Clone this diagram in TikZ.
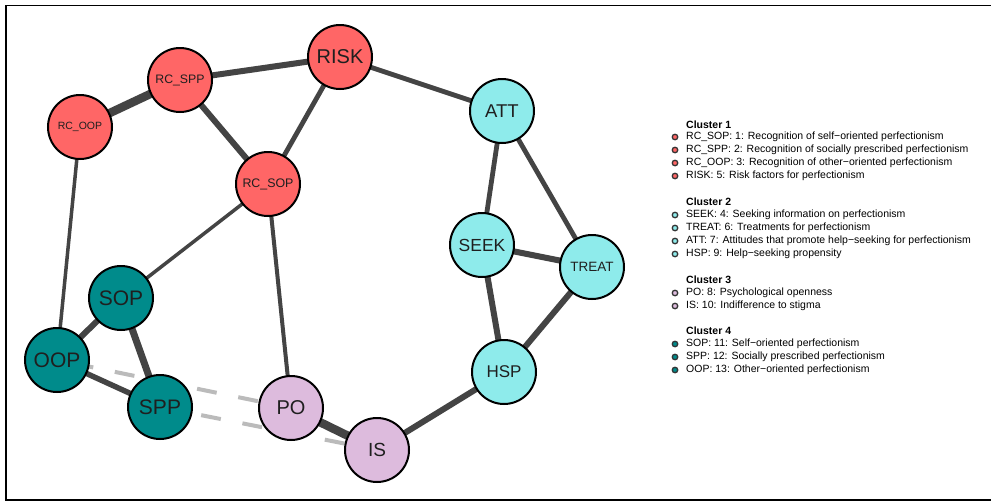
\documentclass[tikz,border=0pt]{standalone}
\usepackage{fontspec}
\setmainfont{Liberation Sans}
\pgfdeclarelayer{bg}
\pgfdeclarelayer{canvas}
\pgfsetlayers{canvas,bg,main}
\definecolor{cred}{HTML}{FF6666}
\definecolor{ccyan}{HTML}{8EEBEB}
\definecolor{cteal}{HTML}{008B8B}
\definecolor{clil}{HTML}{DDBBDD}
\definecolor{cedge}{HTML}{444444}
\definecolor{cneg}{HTML}{BBBBBB}
\tikzset{
  vnode/.style={circle, draw=black, line width=2pt, minimum size=64pt, inner sep=0pt, text=black!88},
  red/.style={vnode, fill=cred},
  cyan/.style={vnode, fill=ccyan},
  teal/.style={vnode, fill=cteal},
  lil/.style={vnode, fill=clil},
  edge/.style={draw=cedge, line width=#1},
  neg/.style={draw=cneg, line width=4pt, dash pattern=on 20pt off 22pt},
  bul/.style={circle, draw=black!80, line width=1.3pt, minimum size=5.5pt, inner sep=0pt},
  leg/.style={anchor=west, inner sep=0pt, font=\fontsize{10.5}{12}\selectfont},
  head/.style={anchor=west, inner sep=0pt, font=\fontsize{10.5}{12}\selectfont\bfseries},
}
\begin{document}
\begin{tikzpicture}[x=1pt, y=-1pt]
\useasboundingbox (0,0) rectangle (991,501);
\begin{pgfonlayer}{canvas}
\fill[white] (0,0) rectangle (991,501);
\end{pgfonlayer}
\draw[line width=1.5pt] (995,5.5) -- (6,5.5) -- (6,500) -- (995,500);

% nodes
\node[red, font=\fontsize{20}{20}\selectfont] (RISK) at (340,57) {RISK};
\node[red, font=\fontsize{12.3}{12}\selectfont] (RCSPP) at (180,80) {RC\_SPP};
\node[red, font=\fontsize{10.5}{12}\selectfont] (RCOOP) at (80,127) {RC\_OOP};
\node[red, font=\fontsize{12.4}{12}\selectfont] (RCSOP) at (268,184) {RC\_SOP};
\node[cyan, font=\fontsize{18.5}{18}\selectfont] (ATT) at (502,111) {ATT};
\node[cyan, font=\fontsize{17.5}{18}\selectfont] (SEEK) at (482,245) {SEEK};
\node[cyan, font=\fontsize{13.5}{14}\selectfont] (TREAT) at (592,267) {TREAT};
\node[cyan, font=\fontsize{17}{18}\selectfont] (HSP) at (504,372) {HSP};
\node[lil, font=\fontsize{19}{19}\selectfont] (IS) at (377,450) {IS};
\node[lil, font=\fontsize{20}{20}\selectfont] (PO) at (291,408) {PO};
\node[teal, font=\fontsize{21}{21}\selectfont] (SPP) at (160,407) {SPP};
\node[teal, font=\fontsize{21}{21}\selectfont] (OOP) at (57,360) {OOP};
\node[teal, font=\fontsize{21}{21}\selectfont] (SOP) at (121,298) {SOP};

% edges
\begin{pgfonlayer}{bg}
\draw[edge=8.5pt] (RCOOP.center) -- (RCSPP.center);
\draw[edge=6pt] (RCSPP.center) -- (RISK.center);
\draw[edge=6pt] (RCSPP.center) -- (RCSOP.center);
\draw[edge=4.8pt] (RISK.center) -- (RCSOP.center);
\draw[edge=4.8pt] (RISK.center) -- (ATT.center);
\draw[edge=3.5pt] (RCOOP.center) -- (OOP.center);
\draw[edge=3.5pt] (RCSOP.center) -- (SOP.center);
\draw[edge=4pt] (RCSOP.center) -- (PO.center);
\draw[edge=4.8pt] (ATT.center) -- (SEEK.center);
\draw[edge=4.8pt] (ATT.center) -- (TREAT.center);
\draw[edge=6pt] (SEEK.center) -- (TREAT.center);
\draw[edge=6pt] (SEEK.center) -- (HSP.center);
\draw[edge=6pt] (TREAT.center) -- (HSP.center);
\draw[edge=6pt] (HSP.center) -- (IS.center);
\draw[edge=8.5pt] (PO.center) -- (IS.center);
\draw[edge=6pt] (OOP.center) -- (SOP.center);
\draw[edge=7pt] (SOP.center) -- (SPP.center);
\draw[edge=5.5pt] (OOP.center) -- (SPP.center);
\draw[neg, dash phase=25pt] (OOP.center) -- (PO.center);
\draw[neg, dash phase=0pt] (SPP.center) -- (IS.center);
\end{pgfonlayer}

% legend
\node[head] (h1) at (686,125) {Cluster 1};
\node[bul, fill=cred] (b1) at (675,137) {}; \node[leg] (l1) at (686,137) {RC\_SOP: 1: Recognition of self−oriented perfectionism};
\node[bul, fill=cred] (b2) at (675,150) {}; \node[leg] (l2) at (686,150) {RC\_SPP: 2: Recognition of socially prescribed perfectionism};
\node[bul, fill=cred] (b3) at (675,163) {}; \node[leg] (l3) at (686,163) {RC\_OOP: 3: Recognition of other−oriented perfectionism};
\node[bul, fill=cred] (b4) at (675,176) {}; \node[leg] (l4) at (686,176) {RISK: 5: Risk factors for perfectionism};

\node[head] (h2) at (686,202) {Cluster 2};
\node[bul, fill=ccyan] (b5) at (675,215) {}; \node[leg] (l5) at (686,215) {SEEK: 4: Seeking information on perfectionism};
\node[bul, fill=ccyan] (b6) at (675,228) {}; \node[leg] (l6) at (686,228) {TREAT: 6: Treatments for perfectionism};
\node[bul, fill=ccyan] (b7) at (675,241) {}; \node[leg] (l7) at (686,241) {ATT: 7: Attitudes that promote help−seeking for perfectionism};
\node[bul, fill=ccyan] (b8) at (675,254) {}; \node[leg] (l8) at (686,254) {HSP: 9: Help−seeking propensity};

\node[head] (h3) at (686,280) {Cluster 3};
\node[bul, fill=clil] (b9) at (675,293) {}; \node[leg] (l9) at (686,293) {PO: 8: Psychological openness};
\node[bul, fill=clil] (b10) at (675,306) {}; \node[leg] (l10) at (686,306) {IS: 10: Indifference to stigma};

\node[head] (h4) at (686,331) {Cluster 4};
\node[bul, fill=cteal] (b11) at (675,344) {}; \node[leg] (l11) at (686,344) {SOP: 11: Self−oriented perfectionism};
\node[bul, fill=cteal] (b12) at (675,357) {}; \node[leg] (l12) at (686,357) {SPP: 12: Socially prescribed perfectionism};
\node[bul, fill=cteal] (b13) at (675,370) {}; \node[leg] (l13) at (686,370) {OOP: 13: Other−oriented perfectionism};
\end{tikzpicture}
\end{document}
